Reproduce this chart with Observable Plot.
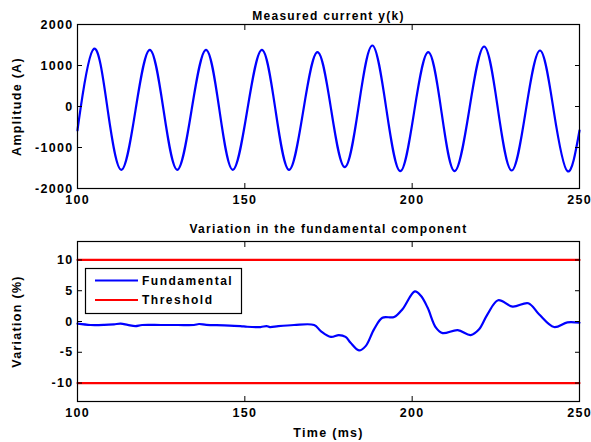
<!DOCTYPE html>
<html>
<head>
<meta charset="utf-8">
<script src="https://cdn.jsdelivr.net/npm/d3@7"></script>
<script src="https://cdn.jsdelivr.net/npm/@observablehq/plot@0.6"></script>
<style>
  html, body { margin: 0; padding: 0; background: #fff; }
  #chart { position: relative; width: 591px; height: 442px; overflow: hidden; }
  #chart svg.plot { position: absolute; left: 0; }
  #legend { position: absolute; left: 85px; top: 268px; }
</style>
</head>
<body>
<div id="chart"></div>
<script>
// ---- data ----
const xTicks = [100, 150, 200, 250];
const currentTicks = [-2000, -1000, 0, 1000, 2000];
const variationTicks = [-10, -5, 0, 5, 10];

// measured current y(k): extrema and zero crossings
const currentTime = [100, 100.9, 104.9, 109.0, 113.1, 117.35, 121.6, 125.7, 129.8, 134.1, 138.4, 142.4, 146.4, 150.75, 155.1, 159.15, 163.2, 167.45, 171.7, 175.8, 179.9, 184.0, 188.1, 192.25, 196.4, 200.6, 204.8, 208.75, 212.7, 217.1, 221.5, 225.6, 229.7, 233.95, 238.2, 242.3, 246.4, 250];
const currentAmp = [-585, -60, 1407, -70, -1544, -80, 1383, -80, -1544, -80, 1383, -80, -1544, -80, 1383, -80, -1544, -110, 1324, -80, -1480, 0, 1488, -45, -1578, -125, 1324, -125, -1578, -60, 1463, -50, -1561, -100, 1366, -105, -1578, -585];

// variation in the fundamental component (%)
const variationTime = [100, 103.9, 108, 110.9, 112.9, 115, 117.3, 119.3, 125, 130, 134.8, 136.3, 138.5, 143.8, 148.7, 150.7, 154.7, 156.5, 157.5, 160, 164.7, 170.7, 172.7, 175.7, 178.1, 180.1, 181.6, 184.1, 186.1, 188.6, 191.1, 194.6, 197.1, 200.8, 202.6, 204.6, 207.1, 209.1, 213.6, 217.5, 220.0, 222.5, 225.7, 230.0, 234.7, 237.9, 242.4, 246.4, 250];
const variationValue = [-0.36, -0.57, -0.55, -0.46, -0.36, -0.55, -0.74, -0.57, -0.57, -0.57, -0.57, -0.41, -0.55, -0.62, -0.74, -0.85, -0.9, -0.75, -0.9, -0.75, -0.57, -0.57, -1.55, -2.5, -2.2, -2.5, -3.46, -4.7, -4.0, -1.27, 0.62, 0.73, 2.0, 4.9, 4.17, 2.26, -1.0, -1.88, -1.39, -2.2, -1.27, 1.17, 3.46, 2.42, 2.97, 1.17, -0.9, -0.13, -0.2];

const thresholdLevels = [10, -10];
const thresholdSpan = [100, 250];

const titles = ["Measured current y(k)", "Variation in the fundamental component"];
const legendLabels = ["Fundamental", "Threshold"];
const colors = {fundamental: "#0000ff", threshold: "#ff0000"};

// ---- tables ----
const currentData = currentTime.map((t, i) => ({t, v: currentAmp[i]}));
const variationData = variationTime.map((t, i) => ({t, v: variationValue[i]}));
const thresholdData = thresholdLevels.flatMap(level => thresholdSpan.map(t => ({t, v: level, level})));

const fontStyle = {
  fontFamily: "'Liberation Sans', Arial, Helvetica, sans-serif",
  fontWeight: "bold",
  fontSize: "12.5px",
  letterSpacing: "1.3px",
  color: "black",
  background: "white",
  overflow: "visible"
};
const fmt = d => String(d);

function axes(yTicks, yLabel, xLabel) {
  return [
    Plot.frame({stroke: "black", strokeWidth: 1.2}),
    Plot.axisX(xTicks, {anchor: "bottom", tickSize: -5, tickPadding: 12, tickFormat: fmt,
      label: xLabel, labelAnchor: "center", labelArrow: "none", labelOffset: 35}),
    Plot.axisX(xTicks, {anchor: "top", tickSize: -5, tickFormat: () => "", label: null}),
    Plot.axisY(yTicks, {anchor: "left", tickSize: -5, tickPadding: 9, tickFormat: fmt,
      label: yLabel, labelAnchor: "center", labelArrow: "none", labelOffset: 65}),
    Plot.axisY(yTicks, {anchor: "right", tickSize: -5, tickFormat: () => "", label: null})
  ];
}

const topPlot = Plot.plot({
  width: 591, height: 210,
  marginTop: 24, marginBottom: 22, marginLeft: 77, marginRight: 12,
  x: {domain: [100, 250]},
  y: {domain: [-2000, 2000]},
  style: fontStyle,
  marks: [
    Plot.line(currentData, {x: "t", y: "v", stroke: colors.fundamental, strokeWidth: 2.2, curve: "natural"}),
    ...axes(currentTicks, "Amplitude (A)", null),
    Plot.text([titles[0]], {frameAnchor: "top", lineAnchor: "bottom", dy: -5, fontSize: 12, letterSpacing: "1.5px"})
  ]
});
topPlot.classList.add("plot");
topPlot.style.top = "0px";

const bottomPlot = Plot.plot({
  width: 591, height: 232,
  marginTop: 31, marginBottom: 41, marginLeft: 77, marginRight: 12,
  x: {domain: [100, 250]},
  y: {domain: [-13, 13]},
  style: fontStyle,
  marks: [
    Plot.line(thresholdData, {x: "t", y: "v", z: "level", stroke: colors.threshold, strokeWidth: 2.2}),
    Plot.line(variationData, {x: "t", y: "v", stroke: colors.fundamental, strokeWidth: 2.2, curve: "catmull-rom"}),
    ...axes(variationTicks, "Variation (%)", "Time (ms)"),
    Plot.text([titles[1]], {frameAnchor: "top", lineAnchor: "bottom", dy: -9, fontSize: 12, letterSpacing: "1.5px"})
  ]
});
bottomPlot.classList.add("plot");
bottomPlot.style.top = "210px";

const chart = document.getElementById("chart");
chart.append(topPlot, bottomPlot);

// legend (SVG overlay)
const ns = "http://www.w3.org/2000/svg";
const leg = document.createElementNS(ns, "svg");
leg.setAttribute("id", "legend");
leg.setAttribute("width", 158);
leg.setAttribute("height", 47);
leg.style.overflow = "visible";
const box = document.createElementNS(ns, "rect");
box.setAttribute("x", 0.5); box.setAttribute("y", 0.5);
box.setAttribute("width", 156); box.setAttribute("height", 45);
box.setAttribute("fill", "white"); box.setAttribute("stroke", "black"); box.setAttribute("stroke-width", 1.2);
leg.append(box);
[colors.fundamental, colors.threshold].forEach((c, i) => {
  const y = 12.5 + i * 19.5;
  const ln = document.createElementNS(ns, "line");
  ln.setAttribute("x1", 10); ln.setAttribute("x2", 53);
  ln.setAttribute("y1", y); ln.setAttribute("y2", y);
  ln.setAttribute("stroke", c); ln.setAttribute("stroke-width", 2.2);
  leg.append(ln);
  const tx = document.createElementNS(ns, "text");
  tx.setAttribute("x", 57); tx.setAttribute("y", y + 4.3);
  tx.setAttribute("font-family", "'Liberation Sans', Arial, sans-serif");
  tx.setAttribute("font-weight", "bold");
  tx.setAttribute("font-size", "12px");
  tx.setAttribute("letter-spacing", "1.5px");
  tx.textContent = legendLabels[i];
  leg.append(tx);
});
chart.append(leg);
</script>
</body>
</html>
